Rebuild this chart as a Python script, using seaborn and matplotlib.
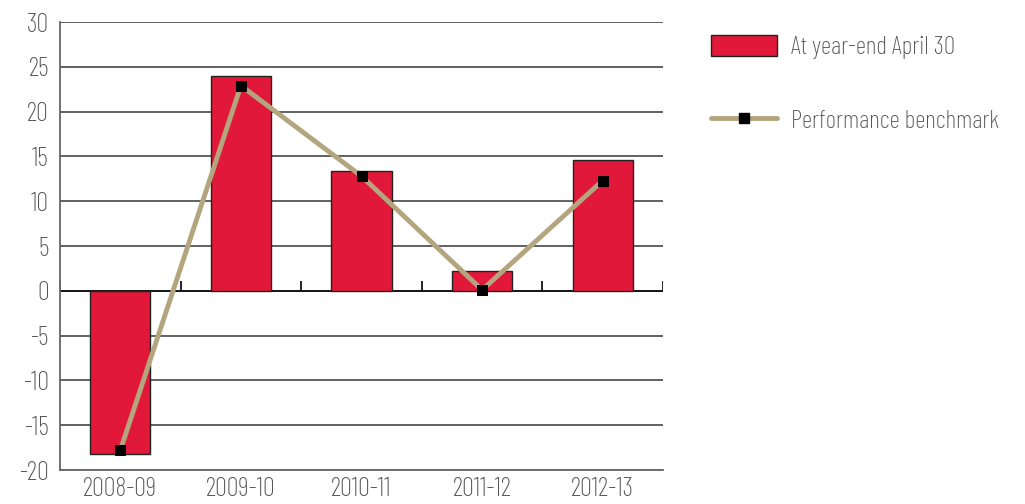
import matplotlib
matplotlib.use('Agg')
import matplotlib.pyplot as plt
from matplotlib.patches import Patch
from matplotlib.lines import Line2D
import numpy as np
import pandas as pd
import seaborn as sns

years = ['2008-09', '2009-10', '2010-11', '2011-12', '2012-13']
year_end = [-18.2, 24.0, 13.4, 2.2, 14.6]
benchmark = [-17.8, 22.9, 12.8, 0.1, 12.3]
yticks = [-20, -15, -10, -5, 0, 5, 10, 15, 20, 25, 30]

red = '#E2183A'
tan = '#B3A67E'
txt = '#555555'

sns.set_style('white')
plt.rcParams['font.family'] = ['Barlow Condensed', 'DejaVu Sans']
plt.rcParams['font.weight'] = 275

df = pd.DataFrame({'year': years, 'value': year_end, 'bench': benchmark})
df['pos'] = np.arange(len(df))

fig = plt.figure(figsize=(10.25, 5.04), dpi=100)
ax = fig.add_axes([60 / 1025, 34 / 504, 603 / 1025, 448 / 504])

for t in yticks:
    ax.axhline(t, color='#555555' if t != 0 else 'black', lw=1.3, zorder=0)

sns.barplot(data=df, x='year', y='value', color=red, edgecolor='#222222',
            linewidth=1.0, width=0.5, saturation=1, ax=ax, zorder=2)
sns.lineplot(data=df, x='pos', y='bench', color=tan, lw=3.5, marker='s',
             markersize=7, markerfacecolor='black', markeredgecolor='black',
             ax=ax, zorder=3)

# small ticks on the zero line between categories
bounds = np.arange(len(years) + 1) - 0.5
ax.vlines(bounds, 0, 1.1, color='black', lw=1.2, zorder=1)

ax.set_xlim(-0.5, len(years) - 0.5)
ax.set_ylim(-20, 30)
ax.set_yticks(yticks)
ax.set_yticklabels([str(t) for t in yticks])
ax.set_xlabel('')
ax.set_ylabel('')
ax.tick_params(axis='both', length=0, labelsize=19, colors=txt, pad=8)
ax.tick_params(axis='x', pad=5)
for s in ['top', 'right']:
    ax.spines[s].set_visible(False)
ax.spines['left'].set_color('#666666')
ax.spines['bottom'].set_color('#666666')
ax.spines['left'].set_linewidth(1.3)
ax.spines['bottom'].set_linewidth(1.3)

handles = [Patch(facecolor=red, edgecolor='#222222', lw=1.0),
           Line2D([], [], color=tan, lw=3.5, marker='s', markersize=7,
                  markerfacecolor='black', markeredgecolor='black')]
labels = ['At year-end April 30', 'Performance benchmark']
leg = fig.legend(handles, labels, loc='upper left', bbox_to_anchor=(688 / 1025, 1 - 12 / 504),
                 frameon=False, fontsize=18.3, handlelength=2.6, handleheight=0.9,
                 labelspacing=1.95, handletextpad=0.55)
for t in leg.get_texts():
    t.set_color(txt)

fig.savefig('out.png', dpi=100)
